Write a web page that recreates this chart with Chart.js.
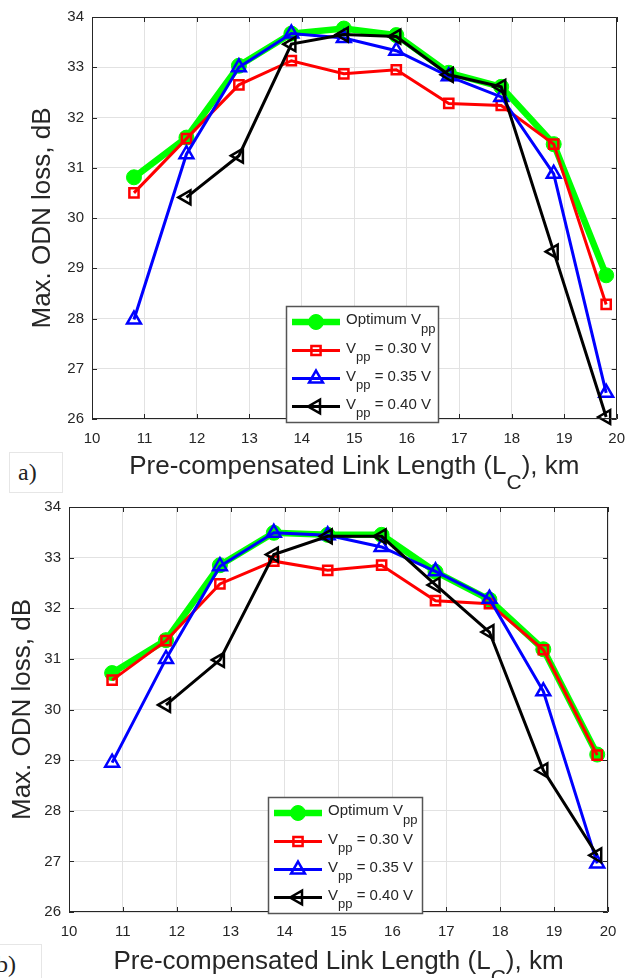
<!DOCTYPE html>
<html>
<head>
<meta charset="utf-8">
<script src="https://cdn.jsdelivr.net/npm/chart.js@4.4.1/dist/chart.umd.min.js"></script>
<style>
  body { margin: 0; background: #fff; width: 636px; height: 978px; position: relative; overflow: hidden; }
  canvas { position: absolute; left: 0; }
  #chartA { top: 0; }
  #chartB { top: 490px; }
  .tag { position: absolute; border: 1px solid #e6e6e6; background: #fff; color: #222;
         font-family: "Liberation Serif", "DejaVu Serif", serif; font-size: 24px; line-height: 38px; }
</style>
</head>
<body>
<canvas id="chartA" width="636" height="490"></canvas>
<canvas id="chartB" width="636" height="488"></canvas>
<div class="tag" style="left:9px;top:452px;width:52px;height:39px;"><span style="position:absolute;left:8px;">a)</span></div>
<div class="tag" style="left:-12px;top:944px;width:52px;height:40px;"><span style="position:absolute;left:7px;">b)</span></div>

<script>
// Link lengths (km)
const lengths = [10.8, 11.8, 12.8, 13.8, 14.8, 15.8, 16.8, 17.8, 18.8, 19.8];
const xTickValues = [10, 11, 12, 13, 14, 15, 16, 17, 18, 19, 20];
const yTickValues = [26, 27, 28, 29, 30, 31, 32, 33, 34];

// a) values (dB)
const optimumA = [30.81, 31.60, 33.03, 33.67, 33.77, 33.64, 32.89, 32.61, 31.47, 28.86];
const vpp30A   = [30.50, 31.58, 32.65, 33.13, 32.87, 32.95, 32.28, 32.24, 31.47, 28.28];
const vpp35A   = [27.98, 31.27, 33.00, 33.67, 33.58, 33.33, 32.82, 32.41, 30.88, 26.52];
const vpp40A   = [null, 30.41, 31.24, 33.46, 33.65, 33.61, 32.85, 32.61, 29.33, 26.04];

// b) values (dB)
const optimumB = [30.72, 31.37, 32.85, 33.49, 33.45, 33.45, 32.72, 32.17, 31.19, 29.11];
const vpp30B   = [30.58, 31.36, 32.48, 32.93, 32.75, 32.85, 32.15, 32.09, 31.18, 29.10];
const vpp35B   = [28.95, 31.00, 32.83, 33.49, 33.44, 33.21, 32.73, 32.19, 30.36, 26.96];
const vpp40B   = [null, 30.09, 30.98, 33.06, 33.42, 33.42, 32.46, 31.53, 28.80, 27.12];

const seriesLabels = [
  [['Optimum V', 0], ['pp', 1]],
  [['V', 0], ['pp', 1], [' = 0.30 V', 0]],
  [['V', 0], ['pp', 1], [' = 0.35 V', 0]],
  [['V', 0], ['pp', 1], [' = 0.40 V', 0]]
];
const xTitle = [['Pre-compensated Link Length (L', 0], ['C', 1], ['), km', 0]];
const yTitle = 'Max. ODN loss, dB';

const FONT = '"Liberation Sans", Arial, sans-serif';
const INK = '#262626';

function pairs(values) {
  return lengths.map((x, i) => ({ x: x, y: values[i] }));
}

function makeDatasets(opt, v30, v35, v40) {
  return [
    { data: pairs(opt), borderColor: '#00ff00', backgroundColor: '#00ff00', borderWidth: 6.5,
      pointStyle: 'circle', pointRadius: 7.5, pointBorderWidth: 1, order: 4 },
    { data: pairs(v30), borderColor: '#ff0000', backgroundColor: 'rgba(0,0,0,0)', borderWidth: 3,
      pointStyle: 'rect', pointRadius: 6.5, pointBorderWidth: 2.5, order: 3 },
    { data: pairs(v35), borderColor: '#0000ff', backgroundColor: 'rgba(0,0,0,0)', borderWidth: 3,
      pointStyle: 'triangle', pointRadius: 8, pointBorderWidth: 2.5, order: 2 },
    { data: pairs(v40), borderColor: '#000000', backgroundColor: 'rgba(0,0,0,0)', borderWidth: 3,
      pointStyle: 'triangle', pointRotation: -90, pointRadius: 8, pointBorderWidth: 2.5, order: 1 }
  ].map(d => Object.assign(d, { tension: 0, clip: false, pointHoverRadius: d.pointRadius }));
}

// text with subscript parts, textBaseline middle
function richText(ctx, parts, x, y, size, subSize, subDy, align) {
  let w = 0;
  parts.forEach(p => {
    ctx.font = (p[1] ? subSize : size) + 'px ' + FONT;
    w += ctx.measureText(p[0]).width;
  });
  let cx = align === 'center' ? x - w / 2 : x;
  ctx.textAlign = 'left';
  ctx.textBaseline = 'middle';
  parts.forEach(p => {
    ctx.font = (p[1] ? subSize : size) + 'px ' + FONT;
    ctx.fillText(p[0], cx, p[1] ? y + subDy : y);
    cx += ctx.measureText(p[0]).width;
  });
}

const matlabLook = {
  id: 'matlabLook',
  afterDatasetsDraw(chart) {
    const { ctx, chartArea: a, scales } = chart;
    ctx.save();
    ctx.strokeStyle = INK;
    ctx.lineWidth = 1;
    ctx.beginPath();
    ctx.rect(Math.round(a.left) + 0.5, Math.round(a.top) + 0.5, Math.round(a.width) - 1, Math.round(a.height) - 1);
    xTickValues.forEach(v => {
      const px = Math.round(scales.x.getPixelForValue(v)) + 0.5;
      ctx.moveTo(px, a.bottom); ctx.lineTo(px, a.bottom - 5);
      ctx.moveTo(px, a.top); ctx.lineTo(px, a.top + 5);
    });
    yTickValues.forEach(v => {
      const py = Math.round(scales.y.getPixelForValue(v)) + 0.5;
      ctx.moveTo(a.left, py); ctx.lineTo(a.left + 5, py);
      ctx.moveTo(a.right, py); ctx.lineTo(a.right - 5, py);
    });
    ctx.stroke();
    ctx.restore();
  },
  afterDraw(chart, args, opts) {
    const { ctx, chartArea: a } = chart;
    ctx.save();
    ctx.fillStyle = INK;
    // axis titles
    richText(ctx, xTitle, (a.left + a.right) / 2, a.bottom + opts.xTitleDy, 26, 21, 16, 'center');
    ctx.translate(opts.yTitleX, (a.top + a.bottom) / 2);
    ctx.rotate(-Math.PI / 2);
    ctx.font = '26px ' + FONT;
    ctx.textAlign = 'center';
    ctx.textBaseline = 'middle';
    ctx.fillText(yTitle, 0, 0);
    ctx.setTransform(1, 0, 0, 1, 0, 0);

    // legend
    const lx = a.left + opts.legendLeft, ly = a.top + opts.legendTop;
    const lw = opts.legendW, lh = 117;
    ctx.fillStyle = '#fff';
    ctx.fillRect(lx, ly, lw, lh);
    ctx.strokeStyle = '#555';
    ctx.lineWidth = 1.5;
    ctx.strokeRect(lx + 0.5, ly + 0.5, lw - 1, lh - 1);
    const rows = [16, 44.5, 72.5, 100.5];
    chart.data.datasets.forEach((ds, i) => {
      const ry = ly + rows[i];
      ctx.strokeStyle = ds.borderColor;
      ctx.lineWidth = ds.borderWidth;
      ctx.beginPath();
      ctx.moveTo(lx + 6, ry); ctx.lineTo(lx + 54, ry);
      ctx.stroke();
      ctx.fillStyle = ds.backgroundColor;
      ctx.lineWidth = ds.pointBorderWidth;
      Chart.helpers.drawPoint(ctx, {
        pointStyle: ds.pointStyle, rotation: ds.pointRotation || 0,
        radius: ds.pointRadius, borderWidth: ds.pointBorderWidth
      }, lx + 30, ry);
      ctx.fillStyle = INK;
      richText(ctx, seriesLabels[i], lx + 60, ry - 2, 15, 13, 9, 'left');
    });
    ctx.restore();
  }
};

function makeChart(id, datasets, geo) {
  return new Chart(document.getElementById(id), {
    type: 'line',
    data: { datasets: datasets },
    plugins: [matlabLook],
    options: {
      responsive: false,
      devicePixelRatio: 1,
      animation: false,
      events: [],
      layout: { padding: { left: 0, top: geo.top, right: geo.right, bottom: 0 } },
      plugins: {
        legend: { display: false },
        tooltip: { enabled: false },
        matlabLook: geo
      },
      scales: {
        x: {
          type: 'linear', min: 10, max: 20,
          afterBuildTicks: s => { s.ticks = xTickValues.map(v => ({ value: v })); },
          afterFit: s => { s.height = geo.xH; },
          grid: { color: '#e2e2e2', drawTicks: false },
          border: { display: false },
          ticks: { color: INK, font: { family: FONT, size: 15 }, padding: 11, maxRotation: 0 }
        },
        y: {
          type: 'linear', min: 26, max: 34,
          afterBuildTicks: s => { s.ticks = yTickValues.map(v => ({ value: v })); },
          afterFit: s => { s.width = geo.yW; },
          grid: { color: '#e2e2e2', drawTicks: false },
          border: { display: false },
          ticks: { color: INK, font: { family: FONT, size: 15 }, padding: 8 }
        }
      }
    }
  });
}

makeChart('chartA', makeDatasets(optimumA, vpp30A, vpp35A, vpp40A),
  { top: 11, right: 7, xH: 71, yW: 92, xTitleDy: 48, yTitleX: 43, legendLeft: 194, legendTop: 289, legendW: 153 });
makeChart('chartB', makeDatasets(optimumB, vpp30B, vpp35B, vpp40B),
  { top: 13, right: 28, xH: 66, yW: 69, xTitleDy: 50, yTitleX: 23, legendLeft: 199, legendTop: 290, legendW: 155 });
</script>
</body>
</html>
